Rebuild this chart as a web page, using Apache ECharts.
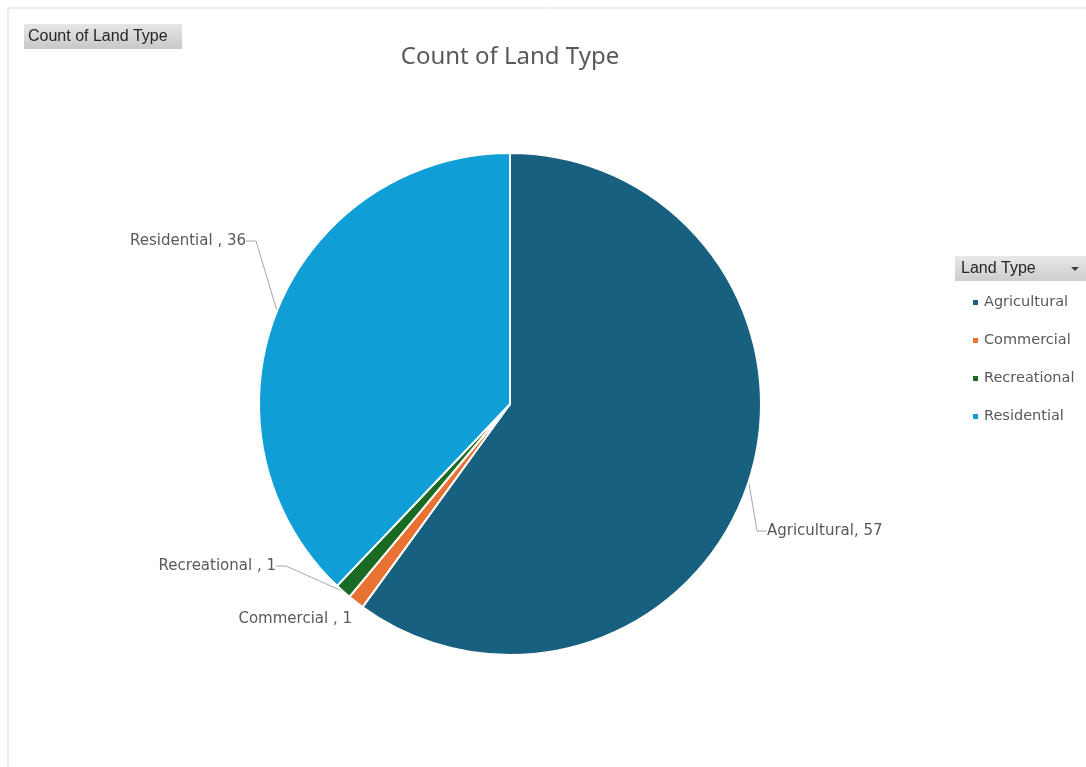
<!DOCTYPE html>
<html>
<head>
<meta charset="utf-8">
<script src="https://cdn.jsdelivr.net/npm/echarts@6/dist/echarts.min.js"></script>
<style>
  html, body { margin: 0; padding: 0; background: #fff; }
  #chart { width: 1086px; height: 767px; }
</style>
</head>
<body>
<div id="chart"></div>
<script>
var myChart = echarts.init(document.getElementById('chart'));

// 数据
var categories = ['Agricultural', 'Commercial', 'Recreational', 'Residential'];
var counts = [57, 1, 1, 36];
var colors = ['#17607f', '#e97132', '#196b24', '#0f9ed5'];

// 标签位置 (x, y, 对齐)
var labelPos = [
    [767, 531, 'left'],
    [352, 619, 'right'],
    [276, 566, 'right'],
    [246, 241, 'right']
];

var pieData = categories.map(function (name, i) {
    var item = { name: name, value: counts[i], itemStyle: { color: colors[i] } };
    if (name === 'Commercial') {
        item.labelLine = { show: false };
    }
    return item;
});

var textColor = '#595959';
var fontFam = '"DejaVu Sans", sans-serif';

var option = {
    backgroundColor: '#fff',
    title: {
        text: 'Count of Land Type',
        left: 505,
        top: 40,
        textAlign: 'center',
        textStyle: {
            fontSize: 24,
            fontWeight: 'normal',
            color: textColor,
            fontFamily: '"Noto Sans", sans-serif'
        }
    },
    legend: {
        orient: 'vertical',
        left: 966,
        top: 290,
        icon: 'rect',
        itemWidth: 7,
        itemHeight: 7,
        itemGap: 23,
        data: categories,
        textStyle: {
            fontSize: 14.5,
            color: textColor,
            fontFamily: fontFam
        }
    },
    graphic: [
        {
            type: 'rect',
            shape: { x: 8, y: 8, width: 1100, height: 780 },
            style: { fill: 'none', stroke: '#d9d9d9', lineWidth: 1 },
            silent: true
        },
        {
            type: 'group',
            left: 24,
            top: 24,
            children: [
                {
                    type: 'rect',
                    shape: { x: 0, y: 0, width: 158, height: 25 },
                    style: {
                        fill: new echarts.graphic.LinearGradient(0, 0, 0, 1, [
                            { offset: 0, color: '#e6e6e6' },
                            { offset: 1, color: '#c8c8c8' }
                        ])
                    }
                },
                {
                    type: 'text',
                    x: 4,
                    y: 13,
                    style: {
                        text: 'Count of Land Type',
                        fill: '#262626',
                        fontSize: 16,
                        fontFamily: '"Liberation Sans", sans-serif',
                        verticalAlign: 'middle'
                    }
                }
            ]
        },
        {
            type: 'group',
            left: 955,
            top: 256,
            children: [
                {
                    type: 'rect',
                    shape: { x: 0, y: 0, width: 135, height: 25 },
                    style: {
                        fill: new echarts.graphic.LinearGradient(0, 0, 0, 1, [
                            { offset: 0, color: '#e8e8e8' },
                            { offset: 1, color: '#cdcdcd' }
                        ])
                    }
                },
                {
                    type: 'text',
                    x: 6,
                    y: 13,
                    style: {
                        text: 'Land Type',
                        fill: '#262626',
                        fontSize: 16,
                        fontFamily: '"Liberation Sans", sans-serif',
                        verticalAlign: 'middle'
                    }
                },
                {
                    type: 'polygon',
                    shape: { points: [[116, 11], [124, 11], [120, 15]] },
                    style: { fill: '#404040' }
                }
            ]
        }
    ],
    series: [
        {
            type: 'pie',
            center: [510, 404],
            radius: 251,
            startAngle: 90,
            clockwise: true,
            data: pieData,
            itemStyle: {
                borderColor: '#fff',
                borderWidth: 2
            },
            label: {
                show: true,
                position: 'outside',
                color: textColor,
                fontSize: 15,
                fontFamily: fontFam,
                formatter: function (p) {
                    return p.name + (p.name === 'Agricultural' ? ', ' : ' , ') + p.value;
                }
            },
            labelLine: {
                show: true,
                length: 15,
                length2: 10,
                lineStyle: { color: '#a6a6a6', width: 1 }
            },
            labelLayout: function (p) {
                var pos = labelPos[p.dataIndex];
                return {
                    x: pos[0],
                    y: pos[1],
                    align: pos[2],
                    verticalAlign: 'middle'
                };
            },
            emphasis: { scale: false }
        }
    ]
};

myChart.setOption(option);
</script>
</body>
</html>
